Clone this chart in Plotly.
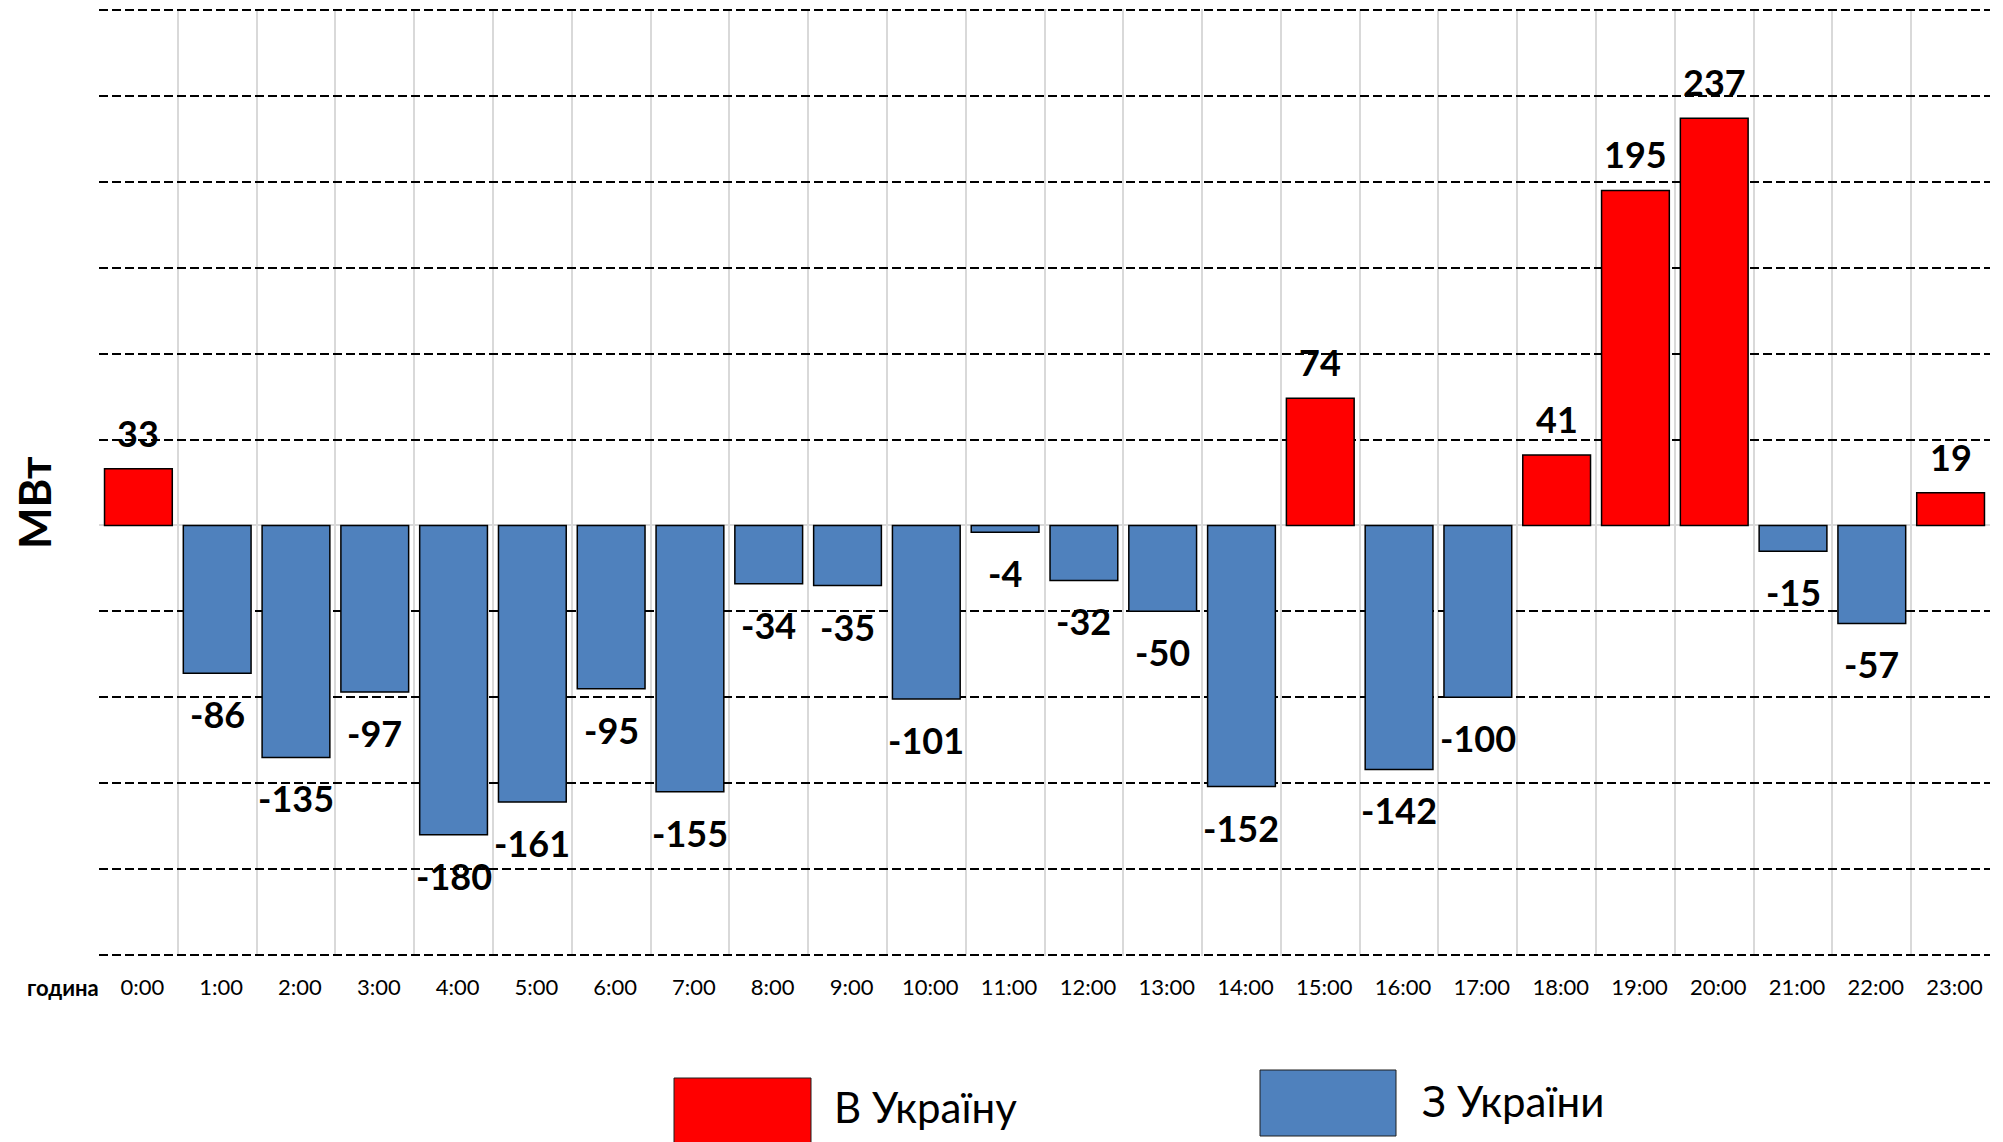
import plotly.graph_objects as go

hours = [f"{h}:00" for h in range(24)]
values = [33, -86, -135, -97, -180, -161, -95, -155, -34, -35, -101, -4,
          -32, -50, -152, 74, -142, -100, 41, 195, 237, -15, -57, 19]
series_names = ["В Україну", "З України"]
series_colors = ["#FF0000", "#4F81BD"]
y_title = "МВт"
x_title = "година"

# page is offset by the browser's default 8px body margin
OFF = 8
PAGE_W, PAGE_H = 2003, 1142
W, H = PAGE_W - OFF, PAGE_H - OFF
PLOT_L, PLOT_R, PLOT_T, PLOT_B = 99, 1990, 9, 956   # page pixels
L, R, T, B = PLOT_L - OFF, PAGE_W - PLOT_R, PLOT_T - OFF, PAGE_H - PLOT_B
PW, PH = W - L - R, H - T - B
FONT = "Lato"

def px_x(px):
    return (px - PLOT_L) / PW

def px_y(py):
    return (PLOT_B - py) / PH

xs = list(range(len(hours)))
colors = [series_colors[0] if v > 0 else series_colors[1] for v in values]

fig = go.Figure()
fig.add_trace(go.Bar(
    x=xs, y=values, width=0.86,
    marker=dict(color=colors, line=dict(color="#000000", width=1.5)),
    showlegend=False, hoverinfo="skip",
))

annotations = []
for x, v in zip(xs, values):
    annotations.append(dict(
        x=x, y=v, xref="x", yref="y", text=str(v), showarrow=False,
        yanchor="middle", xanchor="center",
        yshift=36 if v > 0 else -41,
        font=dict(family=FONT, size=36, color="#000000", weight="bold"),
    ))

annotations.append(dict(
    x=px_x(101), y=px_y(987), xref="paper", yref="paper", text=f"<b>{x_title}</b>",
    showarrow=False, xanchor="right", yanchor="middle",
    font=dict(family=FONT, size=22, color="#000000"),
))
annotations.append(dict(
    x=px_x(34), y=px_y(503), xref="paper", yref="paper", text=f"<b>{y_title}</b>",
    showarrow=False, xanchor="center", yanchor="middle", textangle=-90,
    font=dict(family=FONT, size=44, color="#000000"),
))

# custom legend
legend_items = [
    (series_names[0], series_colors[0], (674, 811, 1078, 1160), (832, 1107)),
    (series_names[1], series_colors[1], (1260, 1396, 1070, 1136), (1420, 1101)),
]
shapes = []
for name, col, (x0, x1, y0, y1), (tx, ty) in legend_items:
    shapes.append(dict(
        type="rect", xref="paper", yref="paper",
        x0=px_x(x0), x1=px_x(x1), y0=px_y(y0), y1=px_y(y1),
        fillcolor=col, line=dict(color="#1f1f1f", width=1),
    ))
    annotations.append(dict(
        x=px_x(tx), y=px_y(ty), xref="paper", yref="paper", text=name,
        showarrow=False, xanchor="left", yanchor="middle",
        font=dict(family=FONT, size=42, color="#000000"),
    ))

fig.update_layout(
    width=W, height=H,
    margin=dict(l=L, r=R, t=T, b=B, pad=0, autoexpand=False),
    paper_bgcolor="#FFFFFF", plot_bgcolor="#FFFFFF",
    font=dict(family=FONT, color="#000000"),
    showlegend=False,
    annotations=annotations,
    shapes=shapes,
    bargap=0.14,
)
fig.update_xaxes(
    range=[-0.5, len(hours) - 0.5], automargin=False,
    tickmode="array", tickvals=xs, ticktext=hours,
    tickfont=dict(family=FONT, size=22, color="#000000"),
    ticks="outside", ticklen=0, ticklabelstandoff=12, ticklabelshift=4,
    showgrid=False, zeroline=False, showline=False,
    minor=dict(tickmode="array", tickvals=[i - 0.5 for i in range(len(hours) + 1)],
               showgrid=True, gridcolor="#D9D9D9", gridwidth=2, ticks=""),
)
fig.update_yaxes(
    range=[-250.6, 300.6], automargin=False,
    tickmode="linear", tick0=0, dtick=50,
    showticklabels=False, showgrid=True, gridcolor="#000000",
    griddash="9px,4px", gridwidth=1.5,
    zeroline=True, zerolinecolor="#D9D9D9", zerolinewidth=2,
    showline=False,
)

fig.write_html("out.html")
